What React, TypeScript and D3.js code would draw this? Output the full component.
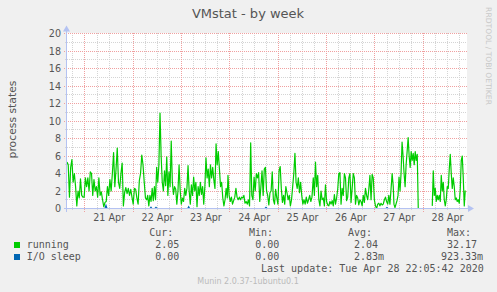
import React from 'react';
import * as d3 from 'd3';

const W = 497;
const H = 292;

const title = 'VMstat - by week';
const yLabel = 'process states';
const watermark = 'RRDTOOL / TOBI OETIKER';
const footer = 'Munin 2.0.37-1ubuntu0.1';
const lastUpdate = 'Last update: Tue Apr 28 22:05:42 2020';

const seriesNames = ['running', 'I/O sleep'];
const seriesColors = ['#00CC00', '#0066B3'];
const statHeaders = ['Cur:', 'Min:', 'Avg:', 'Max:'];
const curVals = ['2.05', '0.00'];
const minVals = ['0.00', '0.00'];
const avgVals = ['2.04', '2.83m'];
const maxVals = ['32.17', '923.33m'];

const yMin = 0;
const yMax = 20;
const timeStart = '2020-04-20T15:04:00Z';
const timeEnd = '2020-04-28T21:41:00Z';

// "running" readings, in consecutive sampled runs (start/end times per run)
const runStarts = ['2020-04-20T15:04:00Z', '2020-04-22T07:08:00Z', '2020-04-23T23:00:00Z', '2020-04-25T17:21:00Z', '2020-04-27T09:25:00Z', '2020-04-28T04:26:00Z'];
const runEnds = ['2020-04-22T06:38:00Z', '2020-04-23T22:39:00Z', '2020-04-25T16:42:00Z', '2020-04-27T09:04:00Z', '2020-04-27T21:29:00Z', '2020-04-28T20:49:00Z'];
// a gap (unknown data) exists between run 5 and run 6
const gapAfterRun = 4;

const running1 = [5.3, 5.0, 1.3, 4.7, 5.6, 3.0, 4.0, 2.5, 0.3, 2.0, 1.2, 3.4, 1.5, 1.3, 1.3, 3.5, 2.5, 3.5, 2.0, 4.2, 4.0, 1.5, 3.3, 2.0, 2.5, 1.3, 3.5, 1.5, 1.9, 1.0, 0.2, 0.7, 0.8, 2.5, 1.5, 3.3, 2.0, 4.0, 6.4, 2.5, 4.5, 6.9, 3.0, 2.3, 4.0, 5.2, 0.3, 1.8, 2.4, 1.7, 2.3, 1.5, 2.2, 1.3, 0.5, 2.3, 2.2, 1.2, 0.5, 3.2, 4.0, 6.1, 5.0, 3.0, 1.2, 1.0];
const running2 = [1.5, 0.3, 1.5, 0.8, 2.3, 0.9, 2.5, 1.0, 4.7, 3.0, 5.0, 10.9, 6.0, 3.0, 2.0, 4.3, 2.6, 5.9, 1.5, 4.2, 2.5, 7.7, 3.0, 1.6, 2.5, 2.2, 0.5, 2.0, 5.0, 2.0, 0.5, 1.2, 0.8, 2.3, 1.5, 2.3, 4.9, 2.0, 0.5, 2.7, 1.5, 3.6, 2.0, 3.0, 0.2, 2.5, 1.5, 3.0, 1.6, 2.5, 0.5, 2.5, 5.8, 3.5, 4.5, 2.5, 5.0, 3.5, 4.7, 3.3, 2.3, 7.4, 5.0, 6.5, 4.5, 2.5, 3.0, 1.2, 0.3, 1.0, 2.3, 1.2];
const running3 = [3.8, 1.5, 0.8, 1.3, 0.5, 0.9, 1.3, 2.3, 1.3, 1.0, 1.3, 1.0, 1.3, 1.2, 1.5, 0.6, 0.8, 0.5, 1.0, 0.3, 7.5, 1.5, 1.0, 3.6, 2.0, 4.0, 3.5, 4.1, 0.8, 2.5, 4.3, 1.5, 4.5, 4.7, 2.0, 1.5, 0.4, 1.8, 2.0, 4.2, 1.0, 0.5, 2.2, 1.2, 0.5, 4.3, 4.8, 2.3, 0.7, 1.5, 0.5, 2.5, 1.8, 1.0, 1.5, 0.3, 1.0, 2.5, 4.0, 6.3, 3.0, 2.3, 3.5, 1.8, 3.0, 1.5, 0.5, 1.0, 0.5, 1.3, 0.6, 1.0, 1.5, 0.8, 1.3];
const running4 = [3.5, 1.5, 5.3, 2.5, 3.8, 1.0, 0.3, 2.0, 1.0, 1.2, 0.3, 2.7, 0.8, 0.4, 0.3, 0.8, 0.5, 0.9, 0.3, 1.6, 0.5, 1.2, 2.2, 4.0, 4.1, 0.5, 2.3, 1.5, 4.0, 3.5, 0.9, 1.3, 3.5, 4.0, 0.7, 2.3, 4.0, 3.5, 0.5, 1.5, 1.2, 0.4, 1.0, 0.8, 0.3, 1.5, 0.7, 2.3, 1.5, 1.0, 2.2, 3.8, 1.0, 3.9, 3.5, 1.0, 0.3, 0.0, 0.5, 0.6, 0.3, 0.6, 0.4, 0.5, 1.0, 1.3, 0.8, 0.5, 1.5, 0.5, 2.2, 4.0, 2.5];
const running5 = [0.5, 0.1, 0.5, 0.9, 1.5, 3.6, 2.0, 4.0, 7.6, 6.0, 4.0, 2.5, 5.0, 6.5, 8.1, 6.0, 4.7, 6.5, 5.5, 6.3, 5.0, 6.5, 5.5, 6.2, 0.0];
const running6 = [0.3, 4.3, 1.5, 2.3, 0.8, 1.5, 1.0, 1.5, 0.8, 3.8, 2.0, 3.0, 1.0, 0.3, 1.0, 2.5, 2.3, 4.5, 6.2, 4.0, 2.3, 3.5, 2.5, 1.0, 1.2, 0.8, 1.0, 0.6, 2.2, 5.5, 6.0, 3.5, 0.3, 2.05];
const runningRuns = [running1, running2, running3, running4, running5, running6];

// "I/O sleep": mostly zero with a few small bumps
const ioTimes = ['2020-04-20T15:04:00Z', '2020-04-21T09:55:00Z', '2020-04-21T10:25:00Z', '2020-04-21T10:55:00Z', '2020-04-22T08:16:00Z', '2020-04-22T08:46:00Z', '2020-04-22T09:16:00Z', '2020-04-22T10:45:00Z', '2020-04-22T11:15:00Z', '2020-04-22T11:45:00Z', '2020-04-23T02:59:00Z', '2020-04-23T03:29:00Z', '2020-04-23T03:59:00Z', '2020-04-24T17:22:00Z', '2020-04-24T17:52:00Z', '2020-04-24T18:22:00Z', '2020-04-27T05:27:00Z', '2020-04-27T05:57:00Z', '2020-04-27T06:27:00Z', '2020-04-28T20:49:00Z'];
const ioValues = [0, 0, 0.35, 0, 0, 0.15, 0, 0, 0.12, 0, 0, 0.2, 0, 0, 0.12, 0, 0, 0.1, 0, 0];

type Pt = { t: Date; v: number };

function buildRunning(): Pt[] {
  const pts: Pt[] = [];
  runningRuns.forEach((vals, i) => {
    const s = new Date(runStarts[i]).getTime();
    const e = new Date(runEnds[i]).getTime();
    const step = (e - s) / (vals.length - 1);
    vals.forEach((v, j) => pts.push({ t: new Date(s + j * step), v }));
    if (i === gapAfterRun) pts.push({ t: new Date(e + step), v: NaN });
  });
  return pts;
}

export default function App() {
  const x = d3.scaleUtc().domain([new Date(timeStart), new Date(timeEnd)]).range([67, 467]);
  const y = d3.scaleLinear().domain([yMin, yMax]).range([208.5, 33.5]);
  const [d0, d1] = x.domain();

  const runningPts = buildRunning();
  const ioPts: Pt[] = ioTimes.map((t, i) => ({ t: new Date(t), v: ioValues[i] }));

  const line = d3
    .line<Pt>()
    .defined((d) => !isNaN(d.v))
    .x((d) => x(d.t))
    .y((d) => y(d.v));

  const days = d3.utcDay.range(d3.utcDay.ceil(d0), d1);
  const sixHours = d3.utcHour.every(6)!.range(d0, d1).filter((d) => d.getUTCHours() !== 0);
  const noons = d3.utcDay
    .range(d3.utcDay.floor(d0), d1)
    .map((d) => d3.utcHour.offset(d, 12))
    .filter((d) => d >= d0 && d <= d1);
  const fmt = d3.utcFormat('%d %b');

  const majorY = d3.range(yMin, yMax + 0.001, 2);
  const minorY = d3.range(yMin + 1, yMax, 2);
  const px = (v: number) => Math.floor(v) + 0.5;

  const gridRed = '#F0A0A0';
  const gridGrey = '#D4D4D4';
  const axisColor = '#B4C2F2';
  const textColor = '#555555';
  const sans = 'DejaVu Sans, sans-serif';
  const mono = 'DejaVu Sans Mono, monospace';

  const yTop = y(yMax);
  const yBot = y(yMin);
  const xL = x.range()[0];
  const xR = x.range()[1];

  const statCols = [149.3, 249, 348, 447];
  const rowVals = [
    [curVals[0], minVals[0], avgVals[0], maxVals[0]],
    [curVals[1], minVals[1], avgVals[1], maxVals[1]],
  ];
  const valX = [
    [155.3, 255.3, 354, 447],
    [155.3, 255.3, 354, 441],
  ];

  return (
    <svg width={W} height={H} style={{ position: 'absolute', left: 0, top: 0 }} xmlns="http://www.w3.org/2000/svg">
      <rect x={0} y={0} width={W} height={H} fill="#F0F0F0" />
      <rect x={xL} y={yTop - 0.5} width={xR - xL} height={yBot - yTop + 0.5} fill="#FFFFFF" />

      {/* minor grid */}
      <g stroke={gridGrey} strokeDasharray="1,1" shapeRendering="crispEdges">
        {minorY.map((v) => (
          <line key={'my' + v} x1={xL - 2} x2={xR} y1={px(y(v))} y2={px(y(v))} />
        ))}
        {sixHours.map((d) => (
          <line key={'mx' + d.getTime()} x1={px(x(d))} x2={px(x(d))} y1={yTop - 0.5} y2={yBot + 2} />
        ))}
      </g>
      {/* major grid */}
      <g stroke={gridRed} strokeDasharray="1,1" shapeRendering="crispEdges">
        {majorY.map((v) => (
          <line key={'My' + v} x1={xL - 3} x2={xR} y1={px(y(v))} y2={px(y(v))} />
        ))}
        {days.map((d) => (
          <line key={'Mx' + d.getTime()} x1={px(x(d))} x2={px(x(d))} y1={yTop - 0.5} y2={yBot + 3} />
        ))}
      </g>

      {/* data */}
      <path d={line(runningPts) || ''} fill="none" stroke={seriesColors[0]} strokeWidth={1.2} strokeLinejoin="round" />
      <path d={line(ioPts) || ''} fill="none" stroke={seriesColors[1]} strokeWidth={1.2} />

      {/* axes */}
      <g shapeRendering="crispEdges">
        <line x1={xL - 3} x2={xR + 1} y1={px(yBot)} y2={px(yBot)} stroke={axisColor} />
        <line x1={px(xL - 1)} x2={px(xL - 1)} y1={yBot + 3} y2={yTop - 4} stroke={axisColor} />
      </g>
      <path d={`M${xR + 1},${px(yBot) - 3.5} L${xR + 7},${px(yBot)} L${xR + 1},${px(yBot) + 3.5} Z`} fill={axisColor} />
      <path d={`M${px(xL - 1) - 3.5},${yTop - 2} L${px(xL - 1)},${yTop - 8} L${px(xL - 1) + 3.5},${yTop - 2} Z`} fill={axisColor} />

      {/* y tick labels */}
      <g fontFamily={sans} fontSize={9.6} fill={textColor} textAnchor="end">
        {majorY.map((v) => (
          <text key={'yl' + v} x={61} y={y(v) + 3.5}>
            {d3.format('d')(v)}
          </text>
        ))}
      </g>
      {/* x labels */}
      <g fontFamily={sans} fontSize={9.6} fill={textColor} textAnchor="middle">
        {noons.map((d) => (
          <text key={'xl' + d.getTime()} x={x(d)} y={221}>
            {fmt(d)}
          </text>
        ))}
      </g>

      {/* title & labels */}
      <text x={248} y={18} fontFamily={sans} fontSize={13} fill={textColor} textAnchor="middle">
        {title}
      </text>
      <text transform="translate(15.5,119.5) rotate(-90)" fontFamily={sans} fontSize={10.8} fill={textColor} textAnchor="middle">
        {yLabel}
      </text>
      <text transform="translate(485.5,56) rotate(90)" fontFamily={sans} fontSize={7.6} fill="#C8C8C8" textAnchor="middle">
        {watermark}
      </text>

      {/* legend */}
      <g fontFamily={mono} fontSize={10} fill={textColor}>
        {statHeaders.map((h, i) => (
          <text key={'h' + i} x={statCols[i]} y={235.5}>
            {h}
          </text>
        ))}
        {seriesNames.map((name, r) => (
          <g key={'row' + r}>
            <rect x={14} y={242 + r * 12} width={6} height={6} fill={seriesColors[r]} />
            <text x={26.7} y={247.5 + r * 12}>
              {name}
            </text>
            {rowVals[r].map((v, c) => (
              <text key={'v' + c} x={valX[r][c]} y={247.5 + r * 12}>
                {v}
              </text>
            ))}
          </g>
        ))}
        <text x={261} y={271.5}>
          {lastUpdate}
        </text>
      </g>
      <text x={248} y={284} fontFamily={sans} fontSize={8} fill="#BBBBBB" textAnchor="middle">
        {footer}
      </text>
    </svg>
  );
}
